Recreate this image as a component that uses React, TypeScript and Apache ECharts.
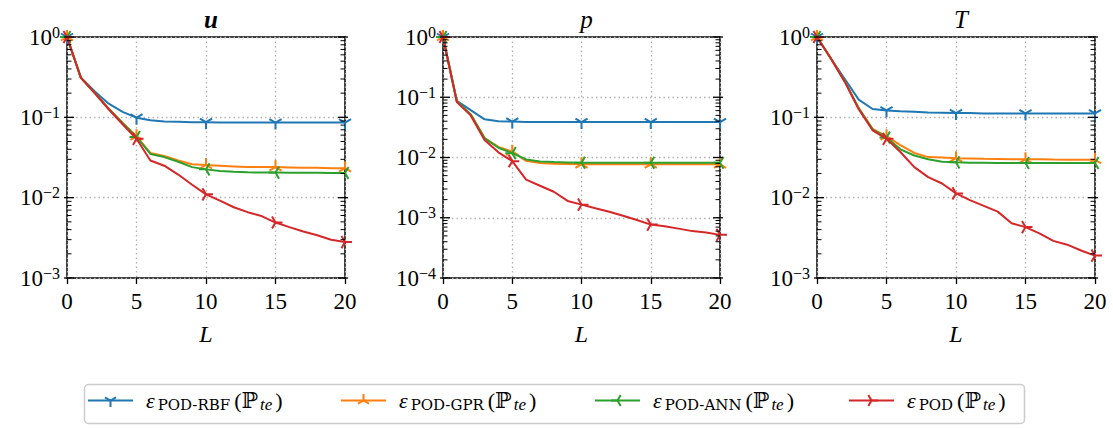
import React, { useEffect, useRef } from "react";
import * as echarts from "echarts";

// ---------- data ----------
const L = [0, 1, 2, 3, 4, 5, 6, 7, 8, 9, 10, 11, 12, 13, 14, 15, 16, 17, 18, 19, 20];
const xTicks = [0, 5, 10, 15, 20];
const panelTitles = ["u", "p", "T"];
const seriesNames = ["POD-RBF", "POD-GPR", "POD-ANN", "POD"];

// panel u
const uRBF = [1, 0.313, 0.21, 0.148, 0.117, 0.099, 0.092, 0.089, 0.088, 0.087, 0.087, 0.086, 0.086, 0.086, 0.086, 0.086, 0.086, 0.086, 0.086, 0.086, 0.086];
const uGPR = [1, 0.31, 0.2, 0.128, 0.085, 0.058, 0.036, 0.033, 0.029, 0.026, 0.0255, 0.025, 0.0245, 0.024, 0.024, 0.024, 0.0238, 0.0235, 0.0235, 0.0233, 0.0233];
const uANN = [1, 0.31, 0.2, 0.128, 0.085, 0.057, 0.035, 0.032, 0.028, 0.024, 0.0225, 0.0215, 0.021, 0.0207, 0.0205, 0.0205, 0.0204, 0.0204, 0.0204, 0.0203, 0.0203];
const uPOD = [1, 0.31, 0.2, 0.126, 0.082, 0.054, 0.029, 0.025, 0.0194, 0.0145, 0.011, 0.0092, 0.0076, 0.0066, 0.0059, 0.0049, 0.0043, 0.0038, 0.0034, 0.003, 0.0028];

// panel p
const pRBF = [1, 0.087, 0.061, 0.043, 0.04, 0.0395, 0.039, 0.039, 0.0388, 0.0388, 0.0388, 0.0387, 0.0387, 0.0387, 0.0387, 0.0387, 0.0387, 0.0387, 0.0387, 0.0387, 0.0387];
const pGPR = [1, 0.085, 0.052, 0.021, 0.015, 0.0125, 0.0088, 0.0081, 0.0079, 0.0078, 0.0077, 0.0077, 0.0077, 0.0077, 0.0077, 0.0077, 0.0077, 0.0077, 0.0077, 0.0077, 0.0077];
const pANN = [1, 0.085, 0.052, 0.021, 0.0145, 0.0118, 0.0093, 0.0086, 0.0084, 0.0083, 0.0082, 0.0082, 0.0082, 0.0082, 0.0082, 0.0082, 0.0082, 0.0082, 0.0082, 0.0082, 0.0082];
const pPOD = [1, 0.083, 0.05, 0.0196, 0.0122, 0.0087, 0.0043, 0.0034, 0.0027, 0.0019, 0.00165, 0.00144, 0.00126, 0.00108, 0.00092, 0.00077, 0.00072, 0.00066, 0.0006, 0.00057, 0.00052];

// panel T
const tRBF = [1, 0.54, 0.3, 0.166, 0.127, 0.122, 0.119, 0.117, 0.115, 0.114, 0.113, 0.113, 0.112, 0.112, 0.112, 0.112, 0.112, 0.112, 0.112, 0.112, 0.112];
const tGPR = [1, 0.54, 0.28, 0.13, 0.072, 0.058, 0.045, 0.036, 0.032, 0.0316, 0.031, 0.0308, 0.0305, 0.0303, 0.03, 0.03, 0.03, 0.0298, 0.0297, 0.0296, 0.0296];
const tANN = [1, 0.54, 0.28, 0.13, 0.071, 0.056, 0.04, 0.0335, 0.03, 0.028, 0.0275, 0.0273, 0.0272, 0.0271, 0.027, 0.027, 0.027, 0.027, 0.027, 0.027, 0.027];
const tPOD = [1, 0.54, 0.276, 0.126, 0.069, 0.054, 0.037, 0.024, 0.018, 0.015, 0.0113, 0.0093, 0.0079, 0.0067, 0.0048, 0.0043, 0.0036, 0.0029, 0.0026, 0.0022, 0.0019];

const yMin = [1e-3, 1e-4, 1e-3];
const yMax = [1, 1, 1];
const panels = [
  [uRBF, uGPR, uANN, uPOD],
  [pRBF, pGPR, pANN, pPOD],
  [tRBF, tGPR, tANN, tPOD],
];

// ---------- style ----------
const COLORS = ["#1f77b4", "#ff7f0e", "#2ca02c", "#d62728"];
const PAD = "M-1,-1M1,1";
const SYMBOLS = [
  "path://" + PAD + "M0,0L0,1M0,0L-0.866,-0.5M0,0L0.866,-0.5", // tri_down
  "path://" + PAD + "M0,0L0,-1M0,0L-0.866,0.5M0,0L0.866,0.5", // tri_up
  "path://" + PAD + "M0,0L-1,0M0,0L0.5,-0.866M0,0L0.5,0.866", // tri_left
  "path://" + PAD + "M0,0L1,0M0,0L-0.5,-0.866M0,0L-0.5,0.866", // tri_right
];
const F = "'Liberation Serif', 'DejaVu Serif', serif";
const FS = "'DejaVu Serif', 'Liberation Serif', serif";
const GRIDS = [
  { left: 67, top: 37, width: 278, height: 241 },
  { left: 443, top: 37, width: 277, height: 241 },
  { left: 817, top: 37, width: 278, height: 241 },
];
const LEGEND_LEFT = [82, 335, 589, 843];
const LEGEND_BOX = { x: 82, y: 382, width: 940, height: 39 };

function decadeTicks(min: number, max: number) {
  const out: [number, number, number][] = [];
  const a = Math.round(Math.log10(min));
  const b = Math.round(Math.log10(max));
  for (let k = a; k <= b; k++) {
    out.push([0, Math.pow(10, k), 1]);
    if (k < b) for (let m = 2; m <= 9; m++) out.push([0, m * Math.pow(10, k), 0]);
  }
  return out;
}

export default function App() {
  const ref = useRef<HTMLDivElement>(null);
  useEffect(() => {
    document.body.style.margin = "0";
    const chart = echarts.init(ref.current!, null, { renderer: "svg" });

    const supRich = {
      b: { fontSize: 23, fontFamily: F, color: "#000", lineHeight: 26 },
      s: { fontSize: 16, fontFamily: F, color: "#000", lineHeight: 14, verticalAlign: "top" },
    };

    const xAxis: any[] = [];
    const yAxis: any[] = [];
    const series: any[] = [];
    const title: any[] = [];

    GRIDS.forEach((g, gi) => {
      title.push({
        text: panelTitles[gi],
        left: g.left + g.width / 2,
        top: 2,
        textAlign: "center",
        textStyle: {
          fontFamily: F,
          fontStyle: "italic",
          fontWeight: gi === 0 ? "bold" : "normal",
          fontSize: 25,
          color: "#000",
        },
      });
      xAxis.push({
        type: "value",
        gridIndex: gi,
        min: 0,
        max: 20,
        interval: 5,
        name: "L",
        nameLocation: "middle",
        nameGap: 44,
        nameTextStyle: { fontFamily: F, fontStyle: "italic", fontSize: 24, color: "#000" },
        axisLine: { show: false },
        axisTick: { show: true, inside: false, length: 6, lineStyle: { color: "#000", width: 1.3 } },
        axisLabel: {
          margin: 12,
          formatter: (v: number) => "{x|" + (xTicks.includes(v) ? String(v) : "") + "}",
          rich: { x: { fontFamily: F, fontSize: 23, color: "#000" } },
        },
        splitLine: { show: true, lineStyle: { color: "#b0b0b0", type: [1.5, 3], width: 1.3 } },
      });
      yAxis.push({
        type: "log",
        logBase: 10,
        gridIndex: gi,
        min: yMin[gi],
        max: yMax[gi],
        axisLine: { show: false },
        axisTick: { show: false },
        axisLabel: {
          margin: 7,
          formatter: (v: number) => {
            const e = Math.round(Math.log10(v));
            return "{b|10}{s|" + (e < 0 ? "\u2212" + -e : String(e)) + "}";
          },
          rich: supRich,
        },
        splitLine: { show: true, lineStyle: { color: "#b0b0b0", type: [1.5, 3], width: 1.3 } },
      });

      panels[gi].forEach((arr, si) => {
        series.push({
          type: "line",
          name: seriesNames[si],
          xAxisIndex: gi,
          yAxisIndex: gi,
          data: L.map((x, i) => [x, arr[i]]),
          symbol: SYMBOLS[si],
          symbolSize: (_v: any, p: any) => (p.dataIndex % 5 === 0 ? 14 : 0),
          showAllSymbol: true,
          lineStyle: { color: COLORS[si], width: 2 },
          itemStyle: { color: COLORS[si], borderColor: COLORS[si], borderWidth: 2 },
          z: 3 + si,
          clip: false,
        });
      });

      // y ticks (major + minor) on both sides, drawn through the axis scale
      series.push({
        type: "custom",
        xAxisIndex: gi,
        yAxisIndex: gi,
        silent: true,
        z: 10,
        data: decadeTicks(yMin[gi], yMax[gi]),
        encode: { x: 0, y: 1 },
        renderItem: (_p: any, api: any) => {
          const v = api.value(1);
          const major = api.value(2) === 1;
          const a = api.coord([0, v]);
          const b = api.coord([20, v]);
          const inL = major ? 7 : 4.5;
          const outL = major ? 3 : 0;
          const w = major ? 1.3 : 1;
          return {
            type: "group",
            children: [
              { type: "line", shape: { x1: a[0] - outL, y1: a[1], x2: a[0] + inL, y2: a[1] }, style: { stroke: "#000", lineWidth: w } },
              { type: "line", shape: { x1: b[0] - inL, y1: b[1], x2: b[0] + outL, y2: b[1] }, style: { stroke: "#000", lineWidth: w } },
            ],
          };
        },
      });
    });

    const legendRich = {
      e: { fontFamily: F, fontStyle: "italic", fontSize: 22, color: "#000", lineHeight: 24, padding: [0, 2, 0, 8] },
      sub: { fontFamily: FS, fontSize: 15, color: "#000", lineHeight: 16, verticalAlign: "bottom", padding: [0, 3, 0, 1] },
      p: { fontFamily: F, fontSize: 22, color: "#000", lineHeight: 24, padding: [0, 1, 0, 1] },
      subi: { fontFamily: F, fontStyle: "italic", fontSize: 17, color: "#000", lineHeight: 16, verticalAlign: "bottom", padding: [0, 2, 0, 1] },
    };

    const legend = seriesNames.map((name, i) => ({
      data: [name],
      left: LEGEND_LEFT[i],
      top: LEGEND_BOX.y + LEGEND_BOX.height / 2 - 17,
      padding: 5,
      itemWidth: 45,
      itemHeight: 16,
      selectedMode: false,
      formatter: (n: string) => "{e|\u03b5}{sub|" + n + "}{p|(\u2119}{subi|te}{p|)}",
      textStyle: { rich: legendRich },
    }));

    chart.setOption({
      animation: false,
      title,
      grid: GRIDS.map((g) => ({ ...g, show: true, borderColor: "#000", borderWidth: 1.5, backgroundColor: "transparent" })),
      xAxis,
      yAxis,
      series,
      legend,
      graphic: [
        {
          type: "rect",
          left: LEGEND_BOX.x,
          top: LEGEND_BOX.y,
          shape: { width: LEGEND_BOX.width, height: LEGEND_BOX.height, r: 4 },
          style: { fill: "none", stroke: "#cccccc", lineWidth: 1.5 },
          silent: true,
          z: -1,
        },
      ],
    });
    return () => chart.dispose();
  }, []);
  return <div ref={ref} style={{ width: 1113, height: 428 }} />;
}
